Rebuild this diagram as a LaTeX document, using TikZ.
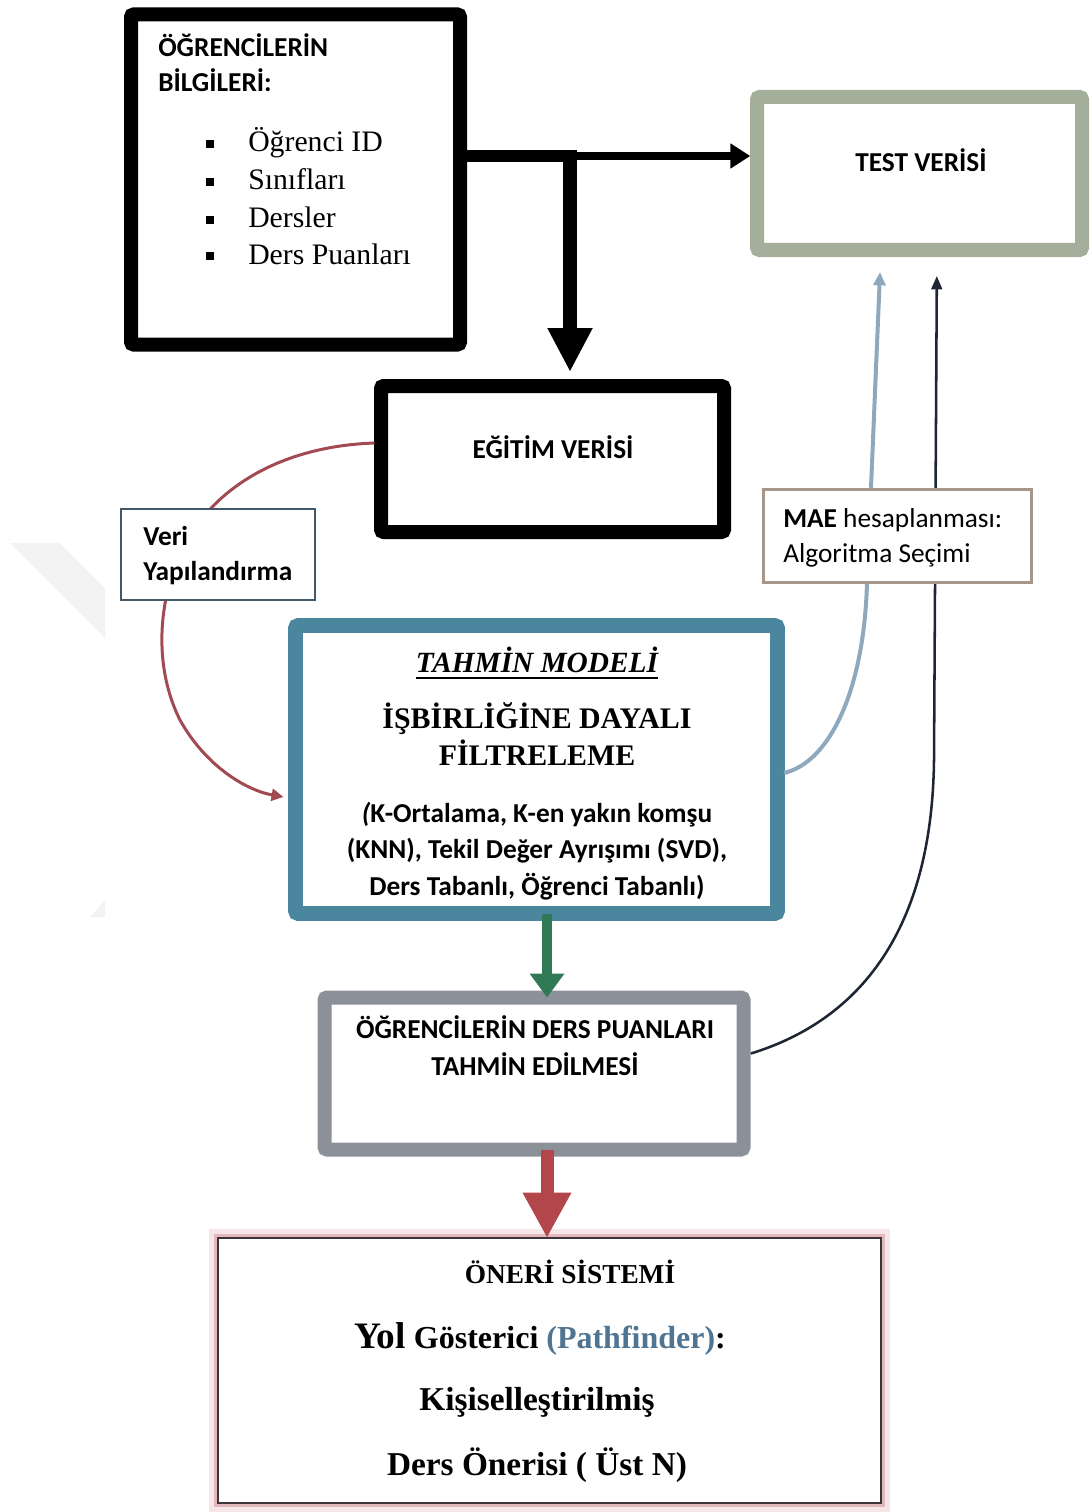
\documentclass[tikz,border=0pt]{standalone}
\usepackage{fontspec}
\setmainfont{Liberation Serif}
\newfontfamily\carl{Carlito}
\usetikzlibrary{arrows.meta}
\definecolor{testc}{HTML}{A3AF9A}
\definecolor{tahc}{HTML}{4A879F}
\definecolor{puanc}{HTML}{8C9199}
\definecolor{maec}{HTML}{A8958A}
\definecolor{veric}{HTML}{41596B}
\definecolor{redcurve}{HTML}{A14A52}
\definecolor{bluecurve}{HTML}{8EA9BE}
\definecolor{darkcurve}{HTML}{1E2633}
\definecolor{greenarr}{HTML}{2F7A55}
\definecolor{redarr}{HTML}{B2464A}
\definecolor{oneric}{HTML}{3C3436}
\definecolor{glowa}{HTML}{F6E6E7}
\definecolor{glowb}{HTML}{E3B8BC}
\definecolor{pathc}{HTML}{4F7593}
\definecolor{wmark}{HTML}{F3F3F3}
\begin{document}
\begin{tikzpicture}[x=0.75pt,y=-0.75pt,
  box/.style={draw, fill=white, inner sep=0pt, outer sep=0pt, rounded corners=2pt},
  sb/.style={inner sep=0pt, anchor=base, font=\carl\bfseries\fontsize{20.5}{24}\selectfont},
  sbw/.style={inner sep=0pt, anchor=base west, font=\carl\bfseries\fontsize{20.5}{24}\selectfont},
  srw/.style={inner sep=0pt, anchor=base west, font=\carl\fontsize{20.5}{24}\selectfont},
  item/.style={inner sep=0pt, anchor=base west, font=\fontsize{22.3}{26}\selectfont},
  bul/.style={fill=black, inner sep=0pt, minimum size=6.5pt},
  serb/.style={inner sep=0pt, anchor=base, font=\bfseries\fontsize{22.4}{26}\selectfont},
  seri/.style={inner sep=0pt, anchor=base, font=\bfseries\itshape\fontsize{22}{26}\selectfont},
  onr/.style={inner sep=0pt, anchor=base, font=\bfseries\fontsize{25}{28}\selectfont}]
\useasboundingbox (0,0) rectangle (1089,1512);
% faint watermark
\fill[wmark] (10,543) -- (60,543) -- (105,588) -- (105,638) -- cycle;
\fill[wmark] (90,917) -- (105,900) -- (105,917) -- cycle;

% main boxes
\node[box, line width=10.5pt, minimum width=246.75pt, minimum height=247.5pt] (info) at (295.5,179.5) {};
\node[box, draw=testc, line width=10.5pt, minimum width=243.75pt, minimum height=114.75pt] (test) at (919.5,173.5) {};
\node[box, line width=10.5pt, minimum width=257.25pt, minimum height=109.5pt] (egitim) at (552.5,459) {};
\node[box, draw=tahc, line width=11pt, minimum width=361.5pt, minimum height=216pt] (tahmin) at (536.5,769.5) {};
\node[box, draw=puanc, line width=10.5pt, minimum width=314.25pt, minimum height=114pt] (puan) at (534,1073.5) {};
\node[draw=oneric, fill=white, inner sep=0pt, outer sep=0pt, line width=2pt,
      preaction={draw=glowa, line width=14pt}, preaction={draw=glowb, line width=6pt},
      minimum width=497.25pt, minimum height=198.75pt] (oneri) at (549.5,1370.5) {};

% black arrows
\coordinate (j) at (570,156);
\coordinate (jr) at (577,156);
\draw[line width=9pt] (info.east |- j) -- (jr);
\draw[line width=6pt, -{Triangle[width=18pt,length=15pt]}, shorten >=5pt] (jr) -- (test.west |- j);
\draw[line width=10.5pt, -{Triangle[width=31.5pt,length=33pt]}, shorten >=10.5pt] ([yshift=4.5pt]j) -- (j |- egitim.north);

% green and red block arrows
\draw[greenarr, line width=7.5pt, -{Triangle[width=25pt,length=18pt]}] ([xshift=7.9pt]tahmin.south) -- ([xshift=7.9pt]tahmin.south |- puan.north);
\draw[redarr, line width=9.75pt, -{Triangle[width=34pt,length=34pt]}] ([xshift=9.75pt]puan.south) -- ([xshift=9.75pt]puan.south |- oneri.north);

% curves
\draw[redcurve, line width=2.25pt, -{Triangle[width=9pt,length=9pt]}]
  ([xshift=-5pt,yshift=12pt]egitim.west) .. controls (290,446) and (225,480) .. (190,535)
  .. controls (160,585) and (150,660) .. (180,720)
  .. controls (205,765) and (245,790) .. ([xshift=-9pt,yshift=-20.6pt]tahmin.west);
\draw[bluecurve, line width=3pt, -{Triangle[width=9pt,length=10pt]}]
  ([xshift=5pt,yshift=-2.6pt]tahmin.east) .. controls (830,762) and (864,690) .. (867,583)
  -- ([xshift=-29.6pt,yshift=-16.5pt]test.south);
\draw[darkcurve, line width=1.9pt, -{Triangle[width=8pt,length=10pt]}]
  ([xshift=5.5pt,yshift=15pt]puan.east) .. controls (860,1020) and (932,930) .. (934,760)
  -- ([xshift=13pt,yshift=-19.5pt]test.south);

% small boxes on top of curves
\node[draw=veric, fill=white, line width=1.5pt, inner sep=0pt, outer sep=0pt, minimum width=145.5pt, minimum height=68.25pt] (veri) at (218,554.5) {};
\node[draw=maec, fill=white, line width=2.25pt, inner sep=0pt, outer sep=0pt, minimum width=201pt, minimum height=69.75pt] (mae) at (897.5,536) {};

% texts: info
\node[sbw] (i1) at (158,57) {ÖĞRENCİLERİN};
\node[sbw] (i2) at (158,92) {BİLGİLERİ:};
\node[bul] (b1) at (210,144) {};
\node[bul] (b2) at (210,182) {};
\node[bul] (b3) at (210,220) {};
\node[bul] (b4) at (210,256) {};
\node[item] (it1) at (248,152) {Öğrenci ID};
\node[item] (it2) at (248,190) {Sınıfları};
\node[item] (it3) at (248,228) {Dersler};
\node[item] (it4) at (248,264) {Ders Puanları};

\node[sb] (tt) at (921,172) {TEST VERİSİ};
\node[sb] (et) at (553,458) {EĞİTİM VERİSİ};

\node[sbw] (v1) at (143,545) {Veri};
\node[sbw] (v2) at (143,580) {Yapılandırma};

\node[srw] (m1) at (783,527) {\textbf{MAE} hesaplanması:};
\node[srw] (m2) at (783,562) {Algoritma Seçimi};

% tahmin texts
\node[seri] (t1) at (537,672) {TAHMİN MODELİ};
\draw[line width=1.5pt] ([yshift=-4.6pt]t1.base west) -- ([yshift=-4.6pt]t1.base east);
\node[serb] (t2) at (537,728) {İŞBİRLİĞİNE DAYALI};
\node[serb] (t3) at (537,765) {FİLTRELEME};
\node[sb] (t4) at (537,822) {{\itshape(}K-Ortalama, K-en yakın komşu};
\node[sb] (t5) at (537,858) {(KNN), Tekil Değer Ayrışımı (SVD),};
\node[sb] (t6) at (537,895) {Ders Tabanlı, Öğrenci Tabanlı)};

% puan texts
\node[sb] (p1) at (535,1038) {ÖĞRENCİLERİN DERS PUANLARI};
\node[sb] (p2) at (535,1075) {TAHMİN EDİLMESİ};

% oneri texts
\node[inner sep=0pt, anchor=base, font=\bfseries\fontsize{20.5}{24}\selectfont] (o1) at (570,1283) {ÖNERİ SİSTEMİ};
\node[onr, font=\bfseries\fontsize{24}{28}\selectfont] (o2) at (540,1348) {{\fontsize{28}{30}\selectfont Yol} Gösterici \textcolor{pathc}{(Pathfinder)}:};
\node[onr] (o3) at (537,1410) {Kişiselleştirilmiş};
\node[onr] (o4) at (537,1475) {Ders Önerisi ( Üst N)};
\end{tikzpicture}
\end{document}
